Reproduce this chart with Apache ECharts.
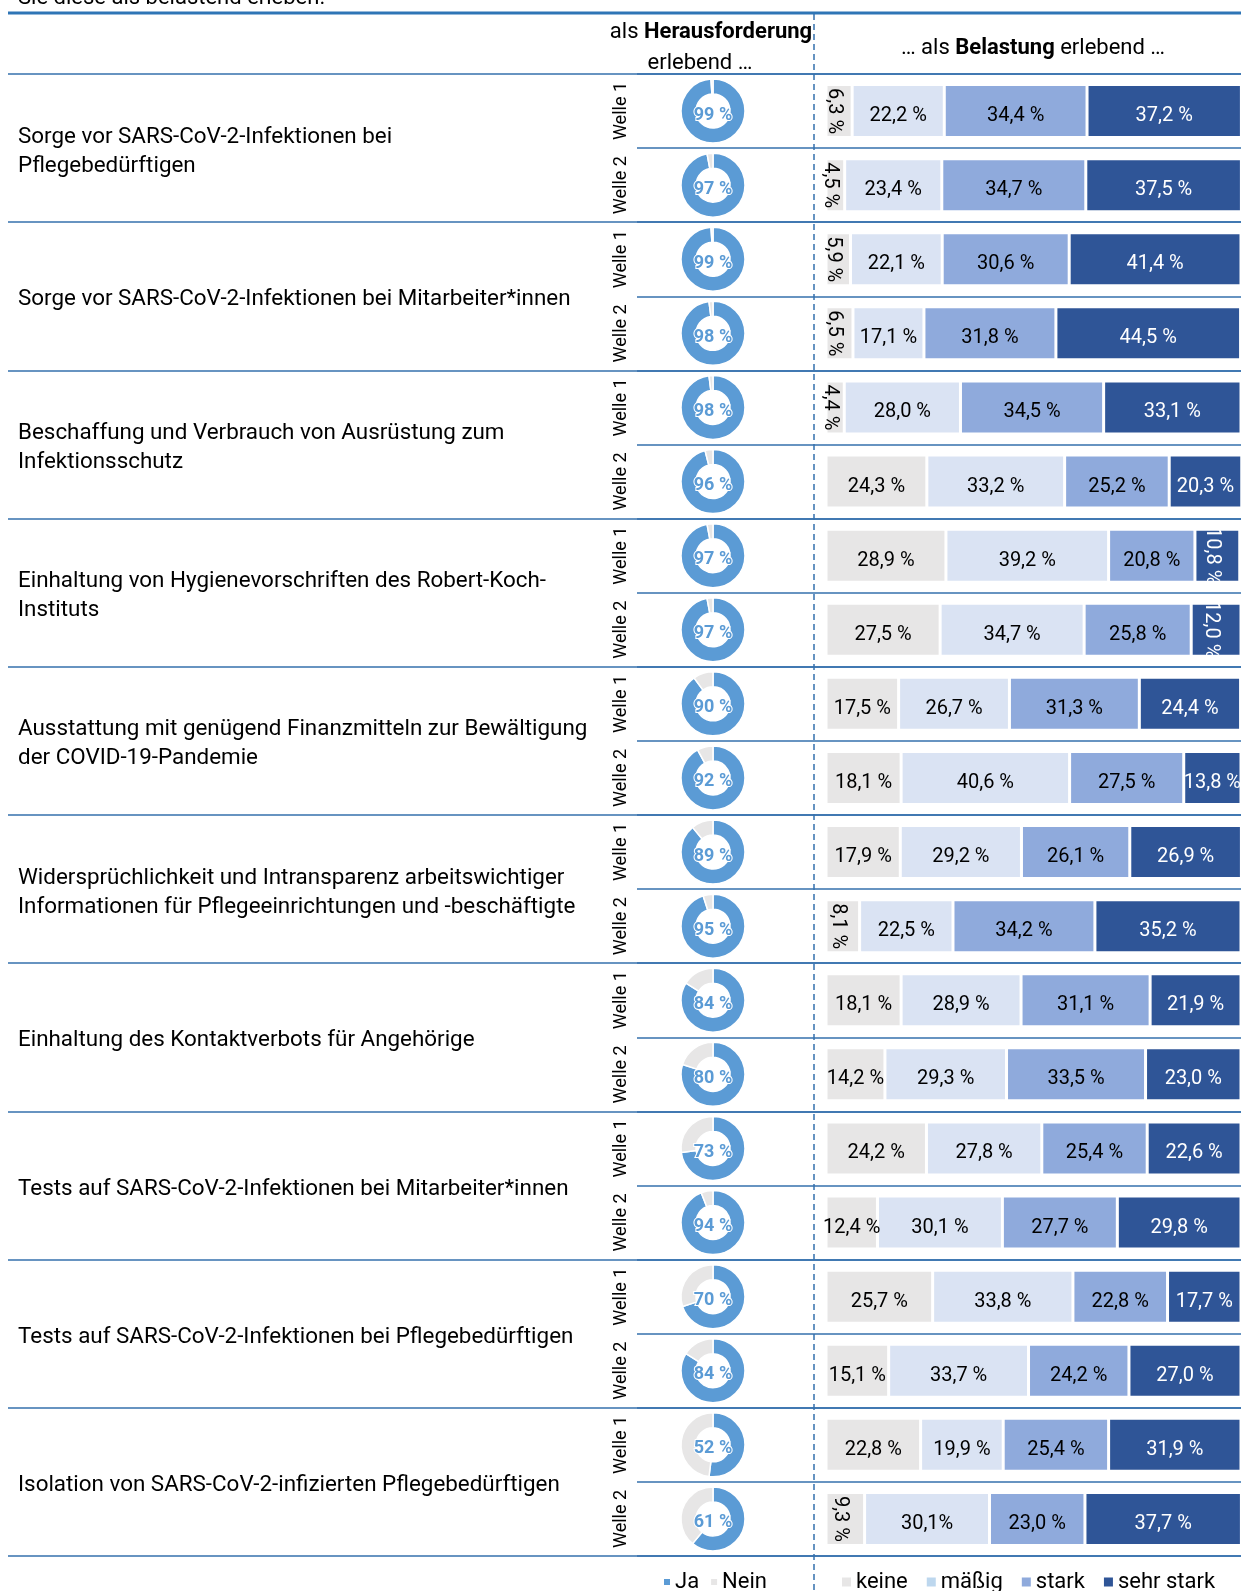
<!DOCTYPE html>
<html>
<head>
<meta charset="utf-8">
<script src="https://cdn.jsdelivr.net/npm/echarts@6/dist/echarts.min.js"></script>
<style>
html, body { margin: 0; padding: 0; background: #fff; }
#chart { width: 1241px; height: 1591px; }
</style>
</head>
<body>
<div id="chart"></div>
<script>
const groups = [
  'Sorge vor SARS-CoV-2-Infektionen bei\nPflegebedürftigen',
  'Sorge vor SARS-CoV-2-Infektionen bei Mitarbeiter*innen',
  'Beschaffung und Verbrauch von Ausrüstung zum\nInfektionsschutz',
  'Einhaltung von Hygienevorschriften des Robert-Koch-\nInstituts',
  'Ausstattung mit genügend Finanzmitteln zur Bewältigung\nder COVID-19-Pandemie',
  'Widersprüchlichkeit und Intransparenz arbeitswichtiger\nInformationen für Pflegeeinrichtungen und -beschäftigte',
  'Einhaltung des Kontaktverbots für Angehörige',
  'Tests auf SARS-CoV-2-Infektionen bei Mitarbeiter*innen',
  'Tests auf SARS-CoV-2-Infektionen bei Pflegebedürftigen',
  'Isolation von SARS-CoV-2-infizierten Pflegebedürftigen',
]
const waves = ['Welle 1', 'Welle 2']

// Anteil "als Herausforderung erlebend" (Ja), Welle 1 / Welle 2 je Thema
const ja = [99, 97, 99, 98, 98, 96, 97, 97, 90, 92, 89, 95, 84, 80, 73, 94, 70, 84, 52, 61]

// "als Belastung erlebend"
const keine = [6.3, 4.5, 5.9, 6.5, 4.4, 24.3, 28.9, 27.5, 17.5, 18.1, 17.9, 8.1, 18.1, 14.2, 24.2, 12.4, 25.7, 15.1, 22.8, 9.3]
const maessig = [22.2, 23.4, 22.1, 17.1, 28.0, 33.2, 39.2, 34.7, 26.7, 40.6, 29.2, 22.5, 28.9, 29.3, 27.8, 30.1, 33.8, 33.7, 19.9, 30.1]
const stark = [34.4, 34.7, 30.6, 31.8, 34.5, 25.2, 20.8, 25.8, 31.3, 27.5, 26.1, 34.2, 31.1, 33.5, 25.4, 27.7, 22.8, 24.2, 25.4, 23.0]
const sehrStark = [37.2, 37.5, 41.4, 44.5, 33.1, 20.3, 10.8, 12.0, 24.4, 13.8, 26.9, 35.2, 21.9, 23.0, 22.6, 29.8, 17.7, 27.0, 31.9, 37.7]
// im Original ohne Leerzeichen vor dem %: "30,1%" (mäßig, letzte Zeile)
const maessigNoSpace = [19]

const FONT = 'Roboto'
const LINE = '#3470ad'
const TOP = 74
const BOTTOM = 35
const rowH = (1591 - TOP - BOTTOM) / 20
const rows = groups.flatMap((g, i) => [i + '-0', i + '-1'])

const chart = echarts.init(document.getElementById('chart'), null, { renderer: 'canvas' })

function pct(v, tight) {
  return v.toFixed(1).replace('.', ',') + (tight ? '%' : ' %')
}

function barSeries(name, values, color, labelColor, rotateBelow, noSpace) {
  return {
    name: name,
    type: 'bar',
    stack: 'total',
    xAxisIndex: 2,
    yAxisIndex: 2,
    barWidth: 53,
    animation: false,
    itemStyle: { color: color, borderColor: '#fff', borderWidth: 1.5 },
    label: {
      show: true,
      position: 'inside',
      offset: [0, 5],
      color: labelColor,
      fontFamily: FONT,
      fontSize: 20,
      formatter: (p) => pct(p.value, (noSpace || []).includes(p.dataIndex)),
    },
    emphasis: { disabled: true },
    data: values.map((v) => (v < rotateBelow ? { value: v, label: { rotate: -90 } } : v)),
  }
}

const pies = ja.map((v, i) => ({
  type: 'pie',
  radius: [17, 32],
  center: [713, TOP + (i + 0.5) * rowH],
  startAngle: 90,
  clockwise: true,
  silent: true,
  animation: false,
  itemStyle: { borderColor: '#fff', borderWidth: 1.5 },
  label: { show: false, position: 'center' },
  labelLine: { show: false },
  data: [
    {
      name: 'Ja',
      value: v,
      itemStyle: { color: '#5b9bd5' },
      label: {
        show: true,
        position: 'center',
        offset: [0, 4],
        formatter: '{c} %',
        color: '#5b9bd5',
        fontFamily: FONT,
        fontWeight: 'bold',
        fontSize: 18,
        textBorderColor: '#fff',
        textBorderWidth: 2,
      },
    },
    { name: 'Nein', value: 100 - v, itemStyle: { color: '#e7e6e6' } },
  ],
}))

chart.setOption({
  backgroundColor: '#fff',
  textStyle: { fontFamily: FONT },
  grid: [
    { left: 8, right: 0, top: TOP, bottom: BOTTOM },
    { left: 637, right: 0, top: TOP, bottom: BOTTOM },
    { left: 826, right: -7, top: TOP, bottom: BOTTOM },
    // Themenbeschriftung, leicht nach unten versetzt wie im Original
    { left: 8, right: 0, top: TOP + 3.5, bottom: BOTTOM - 3.5 },
  ],
  xAxis: [
    { type: 'value', gridIndex: 0, show: false },
    { type: 'value', gridIndex: 1, show: false },
    { type: 'value', gridIndex: 2, show: false, min: 0, max: 100 },
    { type: 'value', gridIndex: 3, show: false },
  ],
  yAxis: [
    {
      type: 'category',
      gridIndex: 0,
      inverse: true,
      data: groups,
      axisLine: { show: false },
      axisTick: { show: false },
      axisLabel: { show: false },
      splitLine: { show: true, lineStyle: { color: LINE, width: 1.5 } },
    },
    {
      type: 'category',
      gridIndex: 1,
      inverse: true,
      data: rows,
      axisLine: { show: false },
      axisTick: { show: false },
      axisLabel: {
        rotate: 90,
        margin: 7,
        interval: 0,
        color: '#000',
        fontSize: 18,
        formatter: (v) => waves[+v.split('-')[1]],
      },
      splitLine: { show: true, lineStyle: { color: LINE, width: 1.5 } },
    },
    { type: 'category', gridIndex: 2, inverse: true, data: rows, show: false },
    {
      type: 'category',
      gridIndex: 3,
      inverse: true,
      data: groups,
      axisLine: { show: false },
      axisTick: { show: false },
      splitLine: { show: false },
      axisLabel: { inside: true, margin: 10, interval: 0, color: '#000', fontSize: 22.4, lineHeight: 29 },
    },
  ],
  legend: [
    {
      data: ['Ja', 'Nein'],
      left: 662,
      top: 1571,
      padding: 0,
      icon: 'rect',
      itemWidth: 8,
      itemHeight: 8,
      itemGap: 10,
      selectedMode: false,
      textStyle: { fontSize: 22, color: '#000', padding: [0, 0, 0, -1] },
    },
    {
      data: [
        { name: 'keine' },
        { name: 'mäßig', itemStyle: { color: '#bdd7ee' } },
        { name: 'stark' },
        { name: 'sehr stark' },
      ],
      left: 840,
      top: 1571,
      padding: 0,
      icon: 'rect',
      itemWidth: 11,
      itemHeight: 11,
      itemGap: 17,
      selectedMode: false,
      textStyle: { fontSize: 22, color: '#000', padding: [0, 0, 0, -1] },
    },
  ],
  graphic: [
    { type: 'text', left: 18, top: -13, style: { text: 'Sie diese als belastend erleben.', font: '22px Roboto', fill: '#000' } },
    { type: 'line', shape: { x1: 8, y1: 13, x2: 1241, y2: 13 }, style: { stroke: '#2e75b6', lineWidth: 3 } },
    { type: 'line', z: 10, shape: { x1: 814, y1: 14, x2: 814, y2: 1591 }, style: { stroke: LINE, lineWidth: 1.5, lineDash: [6, 4] } },
    {
      type: 'text',
      x: 711,
      y: 32,
      style: {
        text: '{n|als }{b|Herausforderung}',
        align: 'center',
        verticalAlign: 'middle',
        rich: {
          n: { fontFamily: FONT, fontSize: 22, fill: '#000' },
          b: { fontFamily: FONT, fontSize: 22, fontWeight: 'bold', fill: '#000' },
        },
      },
    },
    { type: 'text', x: 700, y: 63, style: { text: 'erlebend …', font: '22px Roboto', fill: '#000', align: 'center', verticalAlign: 'middle' } },
    {
      type: 'text',
      x: 1033,
      y: 48,
      style: {
        text: '{n|… als }{b|Belastung}{n| erlebend …}',
        align: 'center',
        verticalAlign: 'middle',
        rich: {
          n: { fontFamily: FONT, fontSize: 22, fill: '#000' },
          b: { fontFamily: FONT, fontSize: 22, fontWeight: 'bold', fill: '#000' },
        },
      },
    },
  ],
  series: [
    barSeries('keine', keine, '#e7e6e6', '#000', 10),
    barSeries('mäßig', maessig, '#dae3f3', '#000', 10, maessigNoSpace),
    barSeries('stark', stark, '#8faadc', '#000', 10),
    barSeries('sehr stark', sehrStark, '#2f5597', '#fff', 13),
    ...pies,
  ],
})
</script>
</body>
</html>
